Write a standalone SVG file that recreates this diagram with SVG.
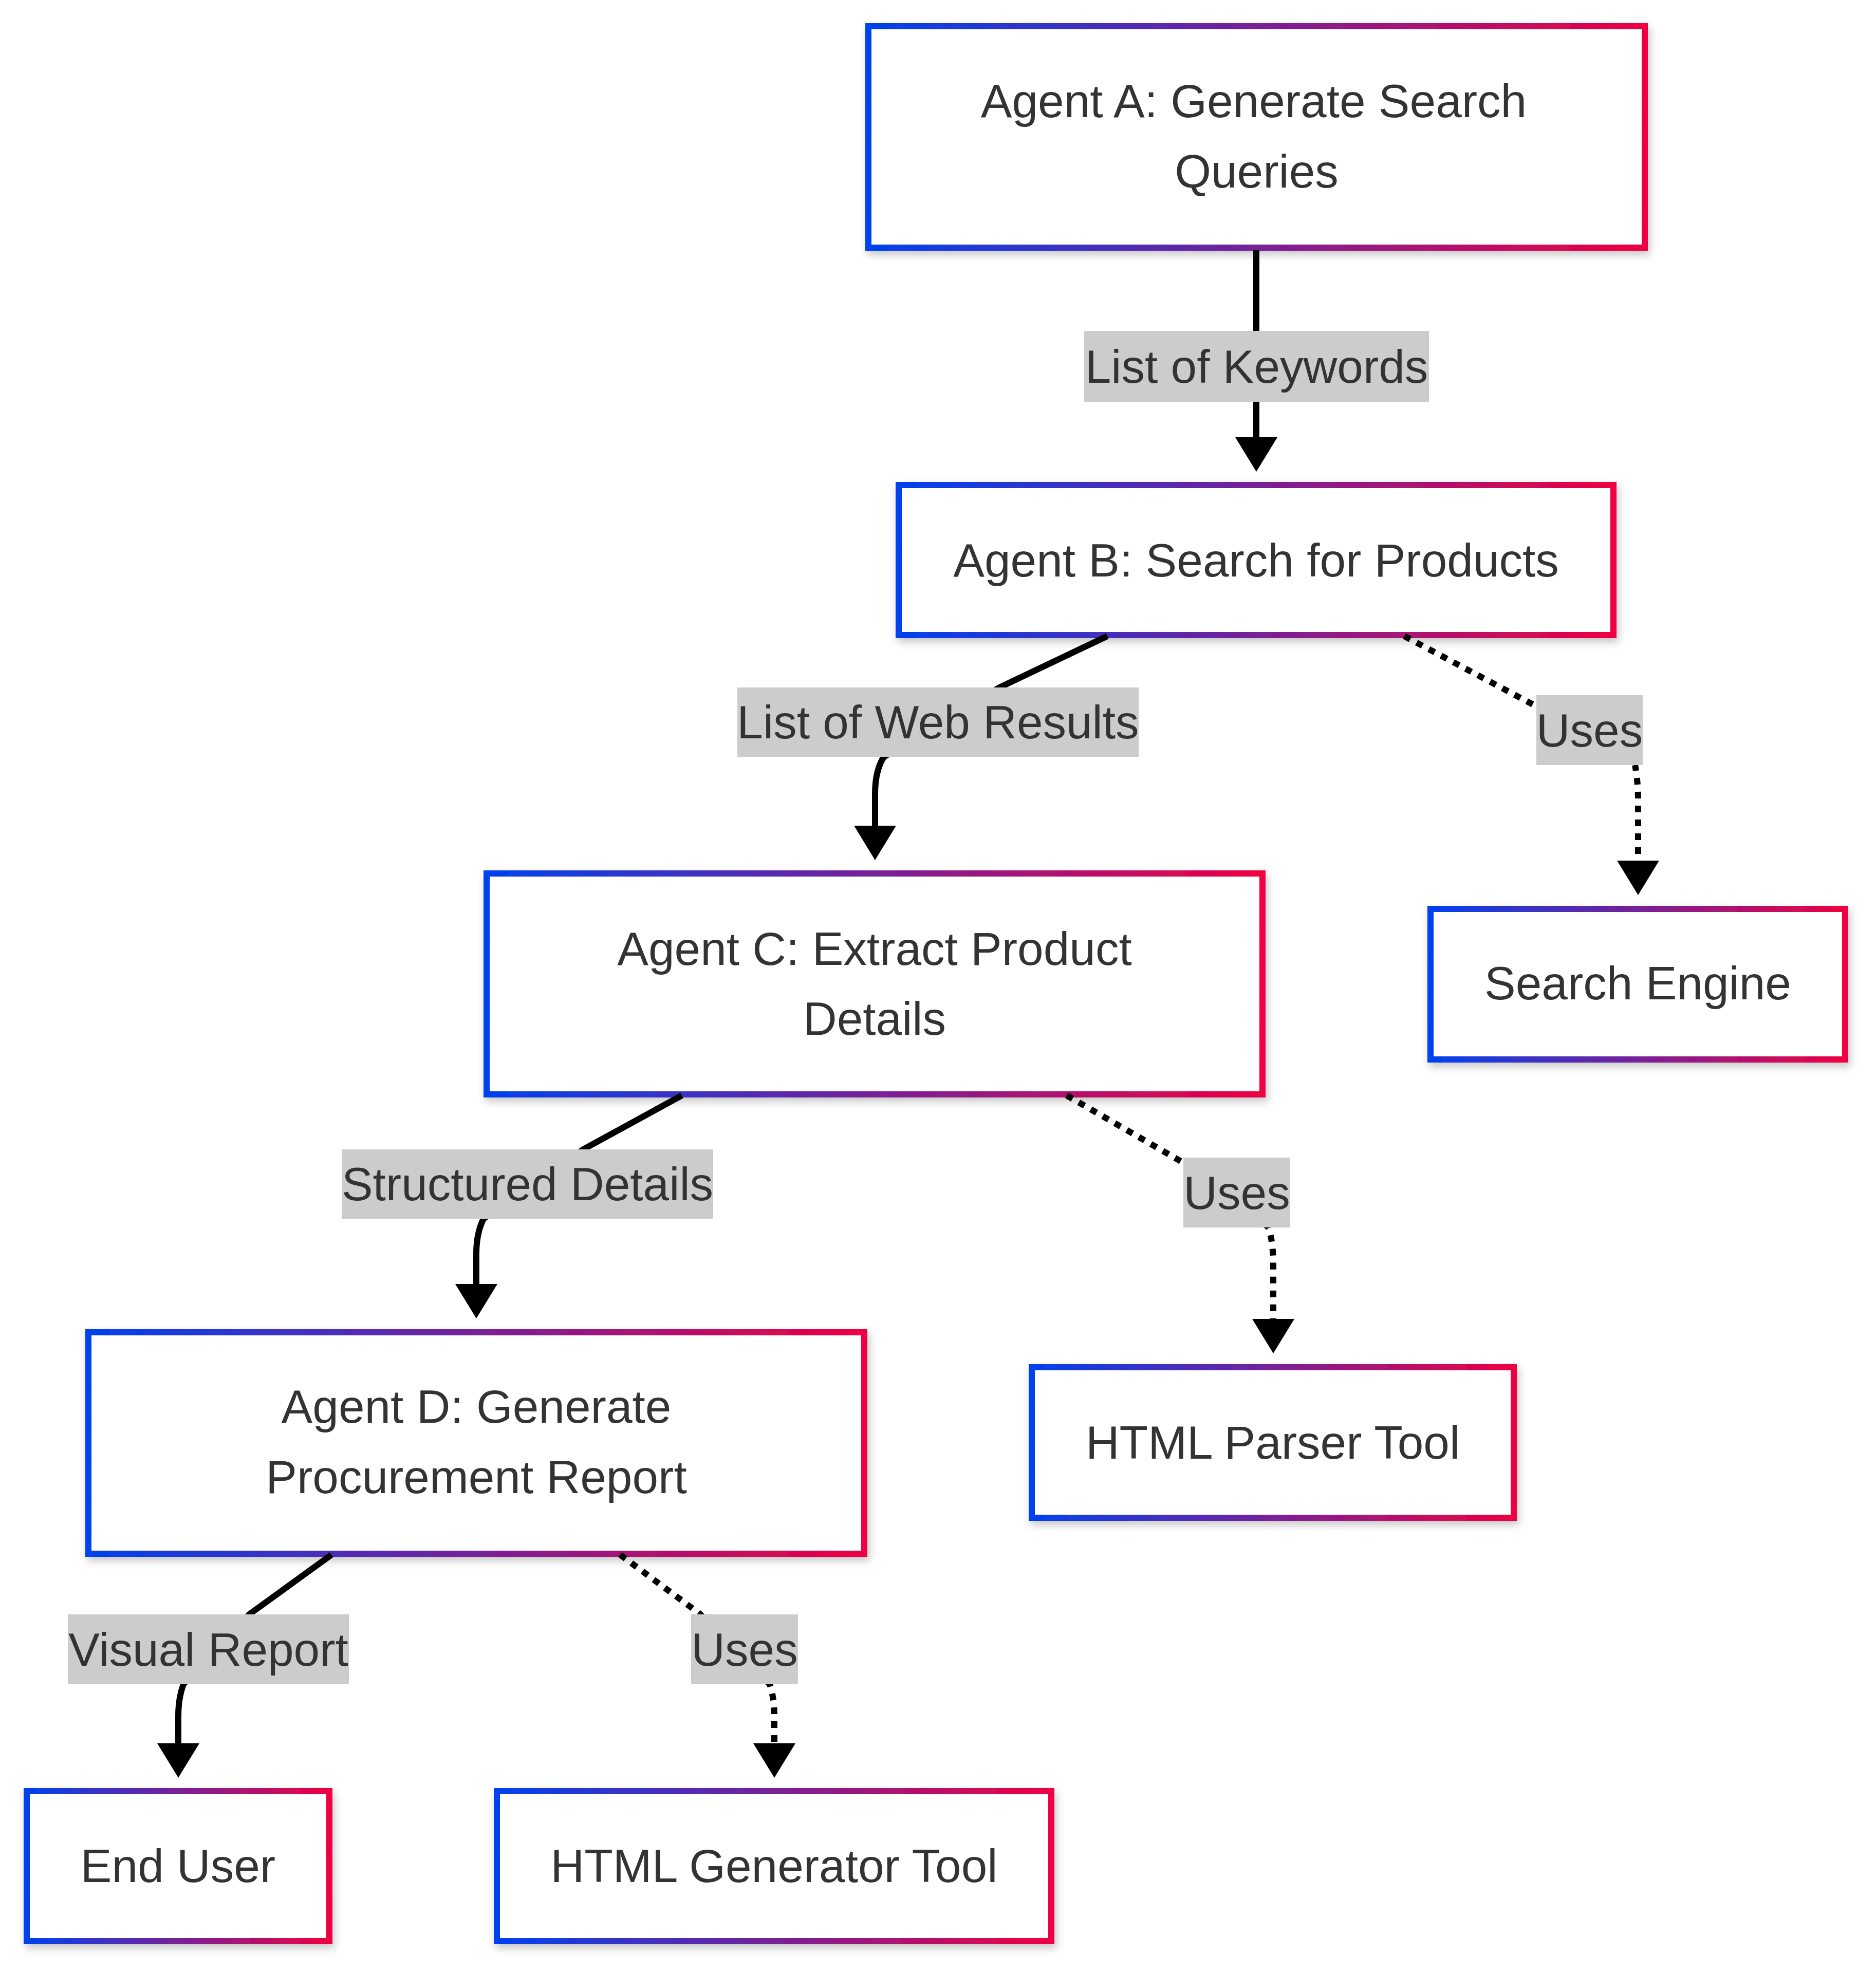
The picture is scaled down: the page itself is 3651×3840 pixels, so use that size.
<svg xmlns="http://www.w3.org/2000/svg" width="3651" height="3840" viewBox="0 0 3651 3840">
<defs>
<linearGradient id="grad" x1="0" y1="0" x2="1" y2="0">
<stop offset="0" stop-color="#0042ee"/>
<stop offset="1" stop-color="#ee0042"/>
</linearGradient>
<filter id="shadow" x="-10%" y="-20%" width="120%" height="150%">
<feDropShadow dx="4" dy="8" stdDeviation="8" flood-color="#000" flood-opacity="0.22"/>
</filter>
<marker id="arrow" viewBox="0 0 67 82" refX="0" refY="41" markerWidth="67" markerHeight="82" markerUnits="userSpaceOnUse" orient="auto">
<path d="M0,0 L67,41 L0,82 Z" fill="#000"/>
</marker>
</defs>
<style>
.node rect{fill:#fff;stroke:url(#grad);stroke-width:12;filter:url(#shadow);}
.node text, .lbl text{font-family:"Liberation Sans",Arial,sans-serif;font-size:91px;fill:#333;text-anchor:middle;}
.edge{fill:none;stroke:#000;stroke-width:12;marker-end:url(#arrow);}
.dotted{stroke-dasharray:13 14;}
.lbl rect{fill:#cccccc;}
</style>
<rect width="3651" height="3840" fill="#fff"/>
<g id="nodes">
<g id="agentA" class="node"><rect x="1690" y="51" width="1511" height="431"/><text x="2440" y="228">Agent A: Generate Search</text><text x="2445.5" y="365">Queries</text></g>
<g id="agentB" class="node"><rect x="1749" y="944" width="1391" height="292"/><text x="2444.5" y="1122">Agent B: Search for Products</text></g>
<g id="agentC" class="node"><rect x="947" y="1700" width="1510" height="430"/><text x="1702" y="1878">Agent C: Extract Product</text><text x="1702" y="2014">Details</text></g>
<g id="searchEngine" class="node"><rect x="2784" y="1769" width="807" height="293"/><text x="3187.5" y="1945">Search Engine</text></g>
<g id="agentD" class="node"><rect x="172" y="2593" width="1510" height="431"/><text x="927" y="2769">Agent D: Generate</text><text x="927" y="2906">Procurement Report</text></g>
<g id="htmlParser" class="node"><rect x="2008" y="2661" width="938" height="293"/><text x="2477" y="2839">HTML Parser Tool</text></g>
<g id="endUser" class="node"><rect x="52" y="3486" width="589" height="292"/><text x="346.5" y="3663">End User</text></g>
<g id="htmlGenerator" class="node"><rect x="967" y="3486" width="1079" height="292"/><text x="1506.5" y="3663">HTML Generator Tool</text></g>
</g>
<g id="connectors">
<path class="edge" d="M2445 486 L2445 851"/>
<path class="edge" d="M2155 1238 L1945 1338 L1720 1473 Q1703 1500 1703 1545 L1703 1607"/>
<path class="edge dotted" d="M2733 1238 L3000 1380 L3182 1489 Q3188 1520 3188 1560 L3188 1675"/>
<path class="edge" d="M1327 2132 L1135 2237 L941 2372 Q927 2400 927 2440 L927 2499"/>
<path class="edge dotted" d="M2076 2132 L2310 2267 L2469 2389 Q2478 2420 2478 2460 L2478 2567"/>
<path class="edge" d="M645 3026 L485 3142 L357 3278 Q347 3305 347 3340 L347 3393"/>
<path class="edge dotted" d="M1207 3026 L1362 3141 L1498 3278 Q1507 3305 1507 3340 L1507 3393"/>
</g>
<g id="edge-labels">
<g class="lbl"><rect x="2110" y="644" width="671" height="138"/><text x="2445.5" y="745">List of Keywords</text></g>
<g class="lbl"><rect x="1435" y="1338" width="781" height="135"/><text x="1825.5" y="1437">List of Web Results</text></g>
<g class="lbl"><rect x="2990" y="1353" width="207" height="136"/><text x="3093.5" y="1453">Uses</text></g>
<g class="lbl"><rect x="665" y="2237" width="723" height="135"/><text x="1026.5" y="2336">Structured Details</text></g>
<g class="lbl"><rect x="2303" y="2253" width="208" height="136"/><text x="2407" y="2353">Uses</text></g>
<g class="lbl"><rect x="132" y="3142" width="547" height="136"/><text x="405.5" y="3242">Visual Report</text></g>
<g class="lbl"><rect x="1345" y="3142" width="208" height="136"/><text x="1449" y="3242">Uses</text></g>
</g>
</svg>
